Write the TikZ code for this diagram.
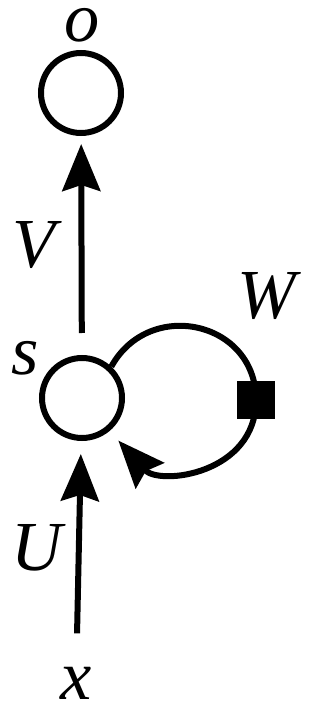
\documentclass[tikz,border=0pt]{standalone}
\usepackage{fontspec}
\setmainfont{Liberation Serif}
\usetikzlibrary{arrows.meta}

\begin{document}
\begin{tikzpicture}[> = {Stealth[length=0.94cm,width=0.76cm,inset=0.12cm]}, % arrow head style
	shorten > = 0.26cm, % keep arrow head off the node
	line width = 0.12cm % line style
	,every node/.style={inner sep=0pt,font=\fontsize{40}{48}\selectfont\itshape}]
	\tikzset{unit/.style={circle,draw,minimum size=1.6cm},
		delay/.style={rectangle,fill=black,minimum size=0.76cm}}
	\useasboundingbox (0,0) rectangle (6.52,14.16);

	\node[unit] (o) at (1.62,12.30) {};
	\node[unit] (s) at (1.64,6.20) {};
	\node[delay] (d) at (5.12,6.16) {};

	\node (lo) at (1.64,13.66) {o};
	\node (lV) at (0.68,9.26) {V};
	\node (ls) at (0.50,7.00) {s};
	\node (lW) at (5.34,8.24) {W};
	\node (lU) at (0.74,3.20) {U};
	\node (x) at (1.52,0.50) {x};

	\draw[->,shorten <= 0.44cm,shorten >= 0.16cm] (s)--(o);
	\draw[->,shorten <= 0.61cm] (x)--(s);
	% loop runs through the delay box
	\draw[->] (s.47) to[out=61,in=90,looseness=1.36] (d.center)
		to[out=-90,in=-48,looseness=1.27] (s.-50);

\end{tikzpicture}
\end{document}
